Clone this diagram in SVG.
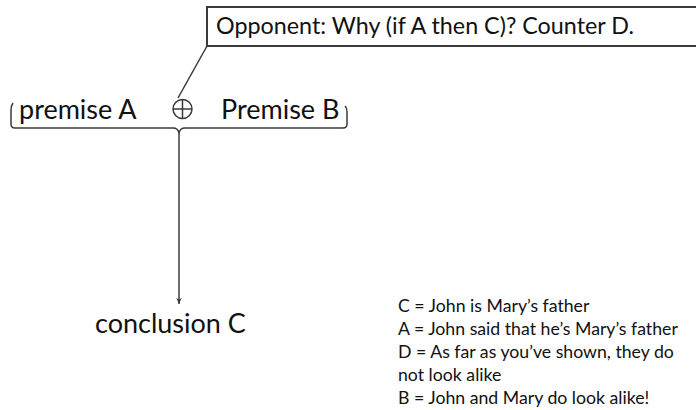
<svg xmlns="http://www.w3.org/2000/svg" width="696" height="410" viewBox="0 0 696 410">
<defs>
<style>
text{font-family:Lato,"Open Sans",sans-serif;fill:#111;}
.big{font-size:27px;}
.box{font-size:23.3px;}
.leg{font-size:17.7px;}
.ln{stroke:#3a3a3a;stroke-width:1.5;fill:none;}
</style>
<marker id="ah" viewBox="0 0 10 10" refX="9" refY="5" markerWidth="7" markerHeight="7" orient="auto" markerUnits="userSpaceOnUse">
<path d="M0,1 L9,5 L0,9 L3,5 Z" fill="#3a3a3a"/>
</marker>
</defs>
<rect width="696" height="410" fill="#fff"/>
<g id="opponent">
<rect x="207" y="7" width="500" height="39" fill="#fff" stroke="#3a3a3a" stroke-width="2"/>
<text class="box" x="216" y="34">Opponent: Why (if A then C)? Counter D.</text>
</g>
<g id="premises">
<text class="big" x="19" y="119">premise A</text>
<text class="big" x="221" y="119">Premise B</text>
<circle cx="182.5" cy="109" r="9.5" class="ln" stroke-width="1.2"/>
<line x1="173" y1="109" x2="192" y2="109" class="ln" stroke-width="1.2"/>
<line x1="182.5" y1="99.5" x2="182.5" y2="118.5" class="ln" stroke-width="1.2"/>
</g>
<g id="conclusion">
<text class="big" x="95" y="333">conclusion C</text>
</g>
<g id="legend">
<text class="leg" x="398" y="312">C = John is Mary’s father</text>
<text class="leg" x="398" y="335">A = John said that he’s Mary’s father</text>
<text class="leg" x="398" y="358">D = As far as you’ve shown, they do</text>
<text class="leg" x="398" y="381">not look alike</text>
<text class="leg" x="398" y="404">B = John and Mary do look alike!</text>
</g>
<g id="connectors">
<line x1="207" y1="46" x2="178" y2="98" class="ln"/>
<path d="M13,103 Q11,106 11,110 L11,124 Q11,128 15,128 L173,128 Q178,128 179,133 Q180,128 185,128 L343,128 Q347,128 347,124 L347,112 Q347,108 345,106" class="ln"/>
<line x1="179" y1="133" x2="179" y2="304" class="ln" marker-end="url(#ah)"/>
</g>
</svg>
